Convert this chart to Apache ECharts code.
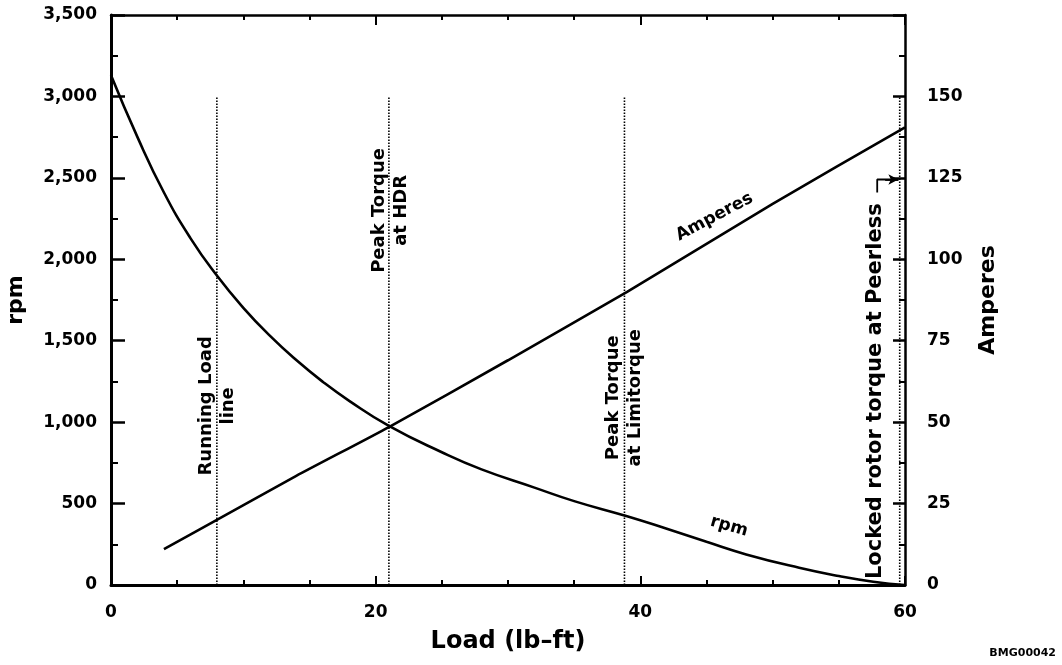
<!DOCTYPE html>
<html>
<head>
<meta charset="utf-8">
<script src="https://cdn.jsdelivr.net/npm/echarts@6/dist/echarts.min.js"></script>
<style>
html,body{margin:0;padding:0;background:#fff;}
#chart{width:1062px;height:665px;}
</style>
</head>
<body>
<div id="chart"></div>
<script>
// ---- data ----
const rpmLoad = [0, 2, 4, 6, 8, 10, 12, 14, 16, 18, 21, 25, 28, 32, 35, 39, 42, 45, 48, 52, 55, 57.6, 60];
const rpmValues = [3130, 2750, 2410, 2130, 1900, 1702, 1531, 1381, 1248, 1131, 977, 815, 710, 598, 515, 422, 345, 265, 188, 106, 55, 20, 0];
const ampLoad = [4, 8, 14, 21, 30, 39, 50, 60];
const ampValues = [11, 20, 33.5, 48.5, 69, 90, 117, 140.5];
const markerLoad = [8, 21, 38.8, 59.6];
const markerTop = 3000;
const markerLabels = ['Running Load\nline', 'Peak Torque\nat HDR', 'Peak Torque\nat Limitorque'];
const markerLabelLoad = [8, 21.1, 38.8];
const markerLabelRpm = [1100, 2300, 1150];
const lockedLabel = 'Locked rotor torque at Peerless';
const lockedLabelPos = [57.8, 1190];
const xTicks = [0, 20, 40, 60];
const rpmTicks = [0, 500, 1000, 1500, 2000, 2500, 3000, 3500];
const ampTicks = [0, 25, 50, 75, 100, 125, 150];
const arrowRpm = 2490;
const arrowFrom = 57.9;
const arrowTo = 59.5;
const arrowStubRpm = 2410;

const FONT = 'DejaVu Sans';
const labelStyle = {fontFamily: FONT, fontWeight: 'bold', color: '#000', fontSize: 17};
const nameStyle = {fontFamily: FONT, fontWeight: 'bold', color: '#000', fontSize: 22};

const chart = echarts.init(document.getElementById('chart'), null, {renderer: 'canvas'});

const markerSeries = markerLoad.map(x => ({
  type: 'line',
  data: [[x, 0], [x, markerTop]],
  symbol: 'none',
  silent: true,
  lineStyle: {color: '#000', width: 1.6, type: [1.5, 1.5]},
  z: 2
}));

const textLabel = (extra) => Object.assign({
  show: true, position: 'inside', align: 'center', verticalAlign: 'middle',
  fontFamily: FONT, fontWeight: 'bold', color: '#000', textBorderWidth: 0
}, extra);

const option = {
  animation: false,
  backgroundColor: '#fff',
  grid: {left: 111, right: 157, top: 15, bottom: 80, outerBoundsMode: 'none', containLabel: false},
  xAxis: [{
    type: 'value', min: 0, max: 60, interval: 20, position: 'bottom',
    name: 'Load (lb–ft)', nameLocation: 'middle', nameGap: 45,
    nameTextStyle: Object.assign({}, nameStyle, {fontSize: 24}),
    axisLine: {show: true, onZero: false, lineStyle: {color: '#000', width: 3}},
    axisTick: {show: true, inside: true, length: 9, lineStyle: {color: '#000', width: 2}},
    minorTick: {show: true, splitNumber: 4, length: 5, lineStyle: {color: '#000', width: 2}},
    splitLine: {show: false},
    axisLabel: Object.assign({margin: 19, formatter: v => xTicks.includes(v) ? String(v) : ''}, labelStyle)
  }, {
    type: 'value', min: 0, max: 60, interval: 20, position: 'top',
    axisLine: {show: true, onZero: false, lineStyle: {color: '#000', width: 2.5}},
    axisTick: {show: true, inside: true, length: 10, lineStyle: {color: '#000', width: 2}},
    minorTick: {show: true, splitNumber: 4, length: 5, lineStyle: {color: '#000', width: 2}},
    splitLine: {show: false},
    axisLabel: {show: false}
  }],
  yAxis: [{
    type: 'value', min: 0, max: 3500, interval: 500, position: 'left',
    name: 'rpm', nameLocation: 'middle', nameGap: 84, nameRotate: 90, nameTextStyle: nameStyle,
    axisLine: {show: true, onZero: false, lineStyle: {color: '#000', width: 3}},
    axisTick: {show: true, inside: true, length: 14, lineStyle: {color: '#000', width: 2.5}},
    minorTick: {show: true, splitNumber: 2, length: 7, lineStyle: {color: '#000', width: 2}},
    splitLine: {show: false},
    axisLabel: Object.assign({margin: 14, formatter: v => rpmTicks.includes(v) ? v.toLocaleString('en-US') : ''}, labelStyle)
  }, {
    type: 'value', min: 0, max: 175, interval: 25, position: 'right',
    name: 'Amperes', nameLocation: 'middle', nameGap: 72, nameRotate: 90, nameTextStyle: nameStyle,
    axisLine: {show: true, onZero: false, lineStyle: {color: '#000', width: 2.5}},
    axisTick: {show: true, inside: true, length: 12, lineStyle: {color: '#000', width: 2.5}},
    minorTick: {show: true, splitNumber: 2, length: 6, lineStyle: {color: '#000', width: 2}},
    splitLine: {show: false},
    axisLabel: Object.assign({margin: 22, formatter: v => ampTicks.includes(v) ? String(v) : ''}, labelStyle)
  }],
  series: [
    {
      name: 'rpm', type: 'line', smooth: 0.5, symbol: 'none',
      data: rpmLoad.map((x, i) => [x, rpmValues[i]]),
      lineStyle: {color: '#000', width: 2.6}, z: 3
    },
    {
      name: 'Amperes', type: 'line', yAxisIndex: 1, smooth: 0.2, symbol: 'none',
      data: ampLoad.map((x, i) => [x, ampValues[i]]),
      lineStyle: {color: '#000', width: 2.6}, z: 3
    },
    ...markerSeries,
    {
      type: 'line', symbol: 'none', silent: true,
      data: [[arrowFrom, arrowStubRpm], [arrowFrom, arrowRpm], [arrowTo, arrowRpm]],
      lineStyle: {color: '#000', width: 1.8},
      markLine: {
        silent: true, symbol: ['none', 'arrow'], symbolSize: [8, 10],
        label: {show: false},
        lineStyle: {color: '#000', width: 1.8, type: 'solid'},
        data: [[{coord: [arrowFrom + 0.6, arrowRpm]}, {coord: [arrowTo, arrowRpm]}]]
      }
    },
    {
      type: 'scatter', symbolSize: 0, silent: true,
      itemStyle: {color: '#000', opacity: 1},
      data: markerLabels.map((t, i) => ({
        value: [markerLabelLoad[i], markerLabelRpm[i]],
        label: {formatter: t}
      })).concat([{
        value: lockedLabelPos,
        label: {formatter: lockedLabel, fontSize: 21}
      }]),
      label: textLabel({rotate: 90, fontSize: 18, lineHeight: 22}),
      z: 4
    },
    {
      type: 'scatter', symbolSize: 0, silent: true, yAxisIndex: 1,
      itemStyle: {color: '#000', opacity: 1},
      data: [{value: [45.6, 113], label: {formatter: 'Amperes'}}],
      label: textLabel({rotate: 28, fontSize: 17})
    },
    {
      type: 'scatter', symbolSize: 0, silent: true,
      itemStyle: {color: '#000', opacity: 1},
      data: [{value: [46.7, 360], label: {formatter: 'rpm'}}],
      label: textLabel({rotate: -16, fontSize: 17})
    }
  ],
  graphic: [{
    type: 'text', right: 6, bottom: 6,
    style: {text: 'BMG00042', fontFamily: FONT, fontWeight: 'bold', fontSize: 11, fill: '#000'}
  }]
};
chart.setOption(option);
</script>
</body>
</html>
